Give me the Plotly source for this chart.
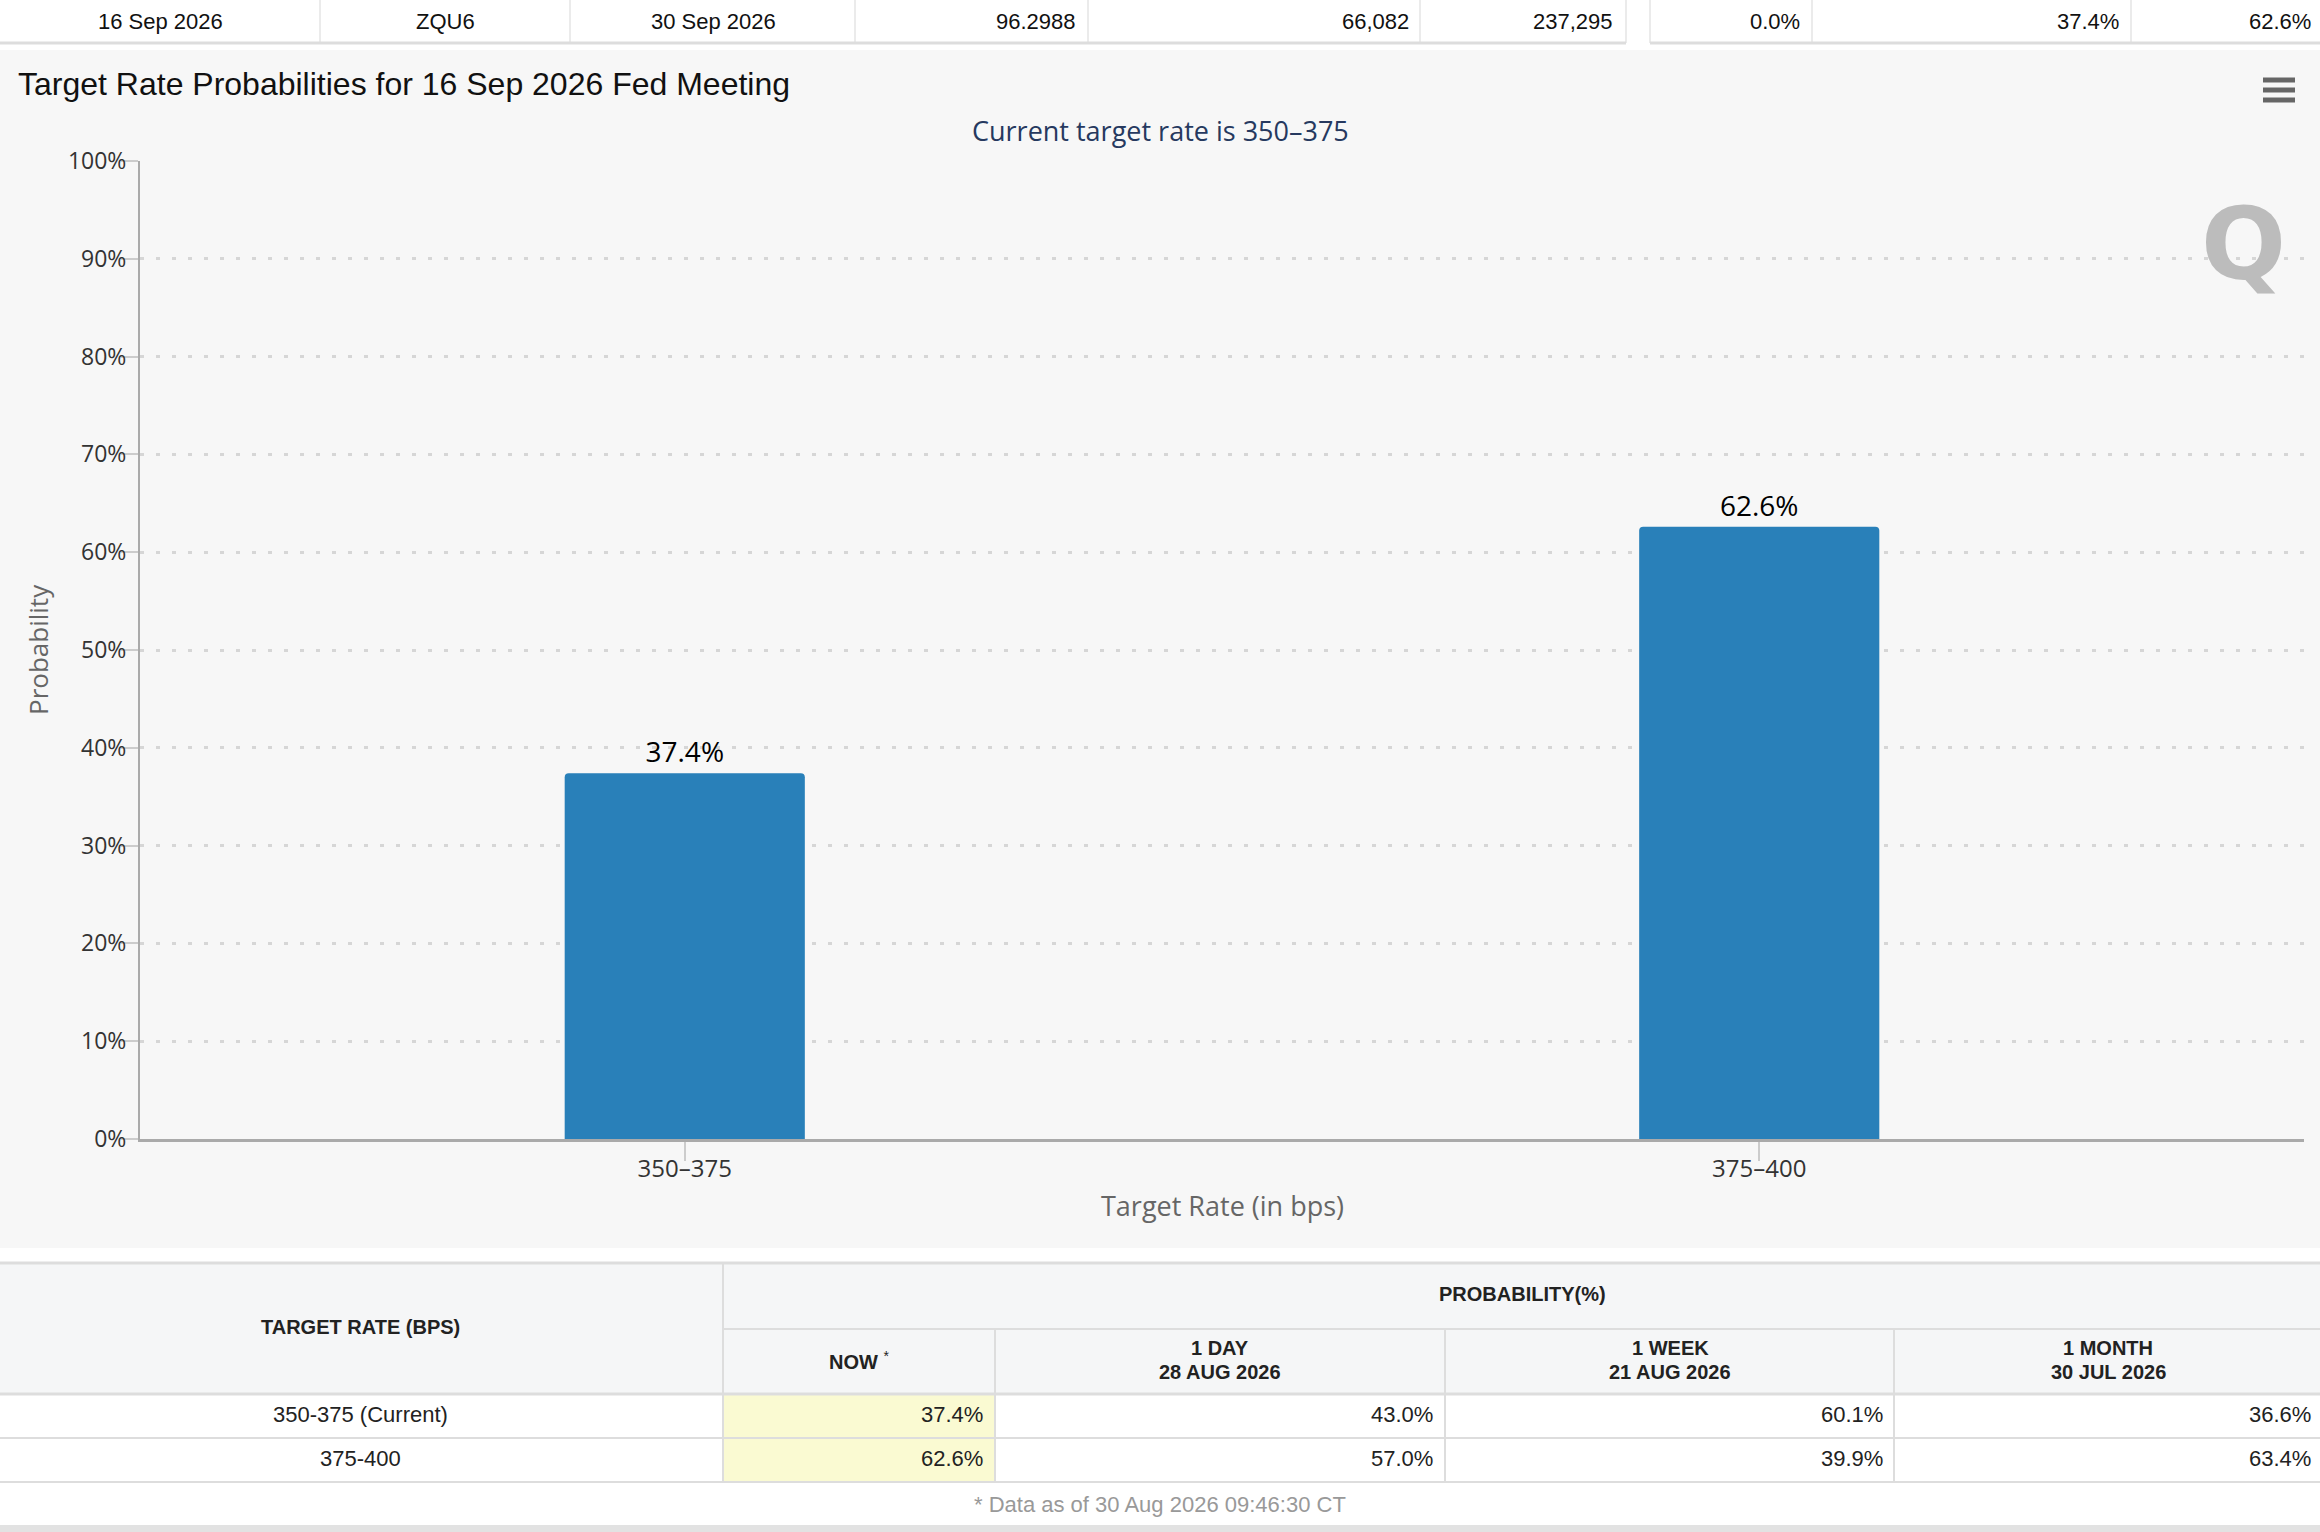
import plotly.graph_objects as go

# 顶部合约信息行
meeting_date = "16 Sep 2026"
contract = "ZQU6"
expires = "30 Sep 2026"
mid_price = "96.2988"
prior_volume = "66,082"
prior_oi = "237,295"
top_probs = ["0.0%", "37.4%", "62.6%"]

# 图表数据
rates = ["350–375", "375–400"]
now_probs = [37.4, 62.6]
current_rate = "350–375"

# 下方概率表
row_labels = ["350-375 (Current)", "375-400"]
period_names = ["1 DAY", "1 WEEK", "1 MONTH"]
period_dates = ["28 AUG 2026", "21 AUG 2026", "30 JUL 2026"]
day_probs = [43.0, 57.0]
week_probs = [60.1, 39.9]
month_probs = [36.6, 63.4]
data_time = "30 Aug 2026 09:46:30 CT"

W, H = 2320, 1532
# 绘图区像素边界
L, R, T, B = 140, 2304, 161, 1139


def px(x):
    return (x - L) / (R - L)


def py(y):
    return (B - y) / (B - T)


ARIAL = "Liberation Sans, Arial, sans-serif"
CHART_FONT = "Open Sans, DejaVu Sans, sans-serif"
LINE = "#dddddd"

fig = go.Figure()
fig.add_trace(
    go.Bar(
        x=rates,
        y=now_probs,
        marker=dict(color="#2980b9", cornerradius=4, line=dict(width=0)),
        texttemplate="%{y:.1f}%",
        textposition="outside",
        textfont=dict(family=CHART_FONT, size=28, color="#000000"),
        cliponaxis=False,
        hoverinfo="skip",
    )
)

shapes = []
annotations = []


def rect(x0, y0, x1, y1, color):
    shapes.append(dict(type="rect", xref="paper", yref="paper", x0=px(x0), x1=px(x1),
                       y0=py(y0), y1=py(y1), fillcolor=color, line=dict(width=0), layer="below"))


def hline(x0, x1, y, color=LINE, width=2):
    shapes.append(dict(type="line", xref="paper", yref="paper", x0=px(x0), x1=px(x1),
                       y0=py(y), y1=py(y), line=dict(color=color, width=width), layer="below"))


def vline(x, y0, y1, color=LINE, width=2):
    shapes.append(dict(type="line", xref="paper", yref="paper", x0=px(x), x1=px(x),
                       y0=py(y0), y1=py(y1), line=dict(color=color, width=width), layer="below"))


def text(x, y, s, size=22, color="#222222", anchor="center", family=ARIAL, **kw):
    annotations.append(dict(xref="paper", yref="paper", x=px(x), y=py(y), text=s,
                            showarrow=False, xanchor=anchor, yanchor="middle",
                            font=dict(family=family, size=size, color=color), **kw))


# 顶部表格
top_vals = [meeting_date, contract, expires, mid_price, prior_volume, prior_oi] + top_probs
top_x = [160, 445, 713, 1078, 1411, 1615, 1802, 2121, 2313]
top_anchor = ["center", "center", "center", "right", "right", "right", "right", "right", "right"]
for v, x, a in zip(top_vals, top_x, top_anchor):
    text(x, 21, v, size=22, color="#111111", anchor=a)
for x in [320, 570, 855, 1088, 1420, 1626, 1650, 1812, 2131]:
    vline(x, 0, 43, color="#e4e4e4", width=1.5)
hline(0, 1626, 43, width=3)
hline(1650, W, 43, width=3)

# 图表背景
rect(0, 50, W, 1248, "#f7f7f7")
text(16, 84, "Target Rate Probabilities for " + meeting_date + " Fed Meeting",
     size=32, color="#111111", anchor="left")
text(1160, 131, "Current target rate is " + current_rate, size=27, color="#26395f",
     family=CHART_FONT)
text(1222, 1205, "Target Rate (in bps)", size=27, color="#666666", family=CHART_FONT)
text(38, 650, "Probability", size=26, color="#666666", family=CHART_FONT, textangle=-90)
text(2243, 244, "<b>Q</b>", size=100, color="#bcbcbc", family="DejaVu Sans, sans-serif")
for y in [80, 90, 100]:
    hline(2263, 2295, y, color="#666666", width=5)

# 下方表格
rect(0, 1263, W, 1394, "#f5f6f7")
rect(723, 1394, 995, 1482, "#fafad2")
hline(0, W, 1263, width=3)
hline(723, W, 1329, width=2)
hline(0, W, 1394, width=3)
hline(0, W, 1438, width=2)
hline(0, W, 1482, width=2)
vline(723, 1263, 1482)
for x in [995, 1445, 1894]:
    vline(x, 1329, 1482)
rect(0, 1525, W, 1532, "#e2e2e2")

text(360, 1327, "<b>TARGET RATE (BPS)</b>", size=20)
text(1522, 1294, "<b>PROBABILITY(%)</b>", size=20)
text(859, 1360, "<b>NOW</b> <sup>*</sup>", size=20)
col_centers = [1220, 1670, 2108]
for cx, n, d in zip(col_centers, period_names, period_dates):
    text(cx, 1348, "<b>" + n + "</b>", size=20)
    text(cx, 1372, "<b>" + d + "</b>", size=20)

row_y = [1414, 1458]
for i, y in enumerate(row_y):
    text(360, y, row_labels[i])
    text(985, y, f"{now_probs[i]:.1f}%", anchor="right")
    text(1435, y, f"{day_probs[i]:.1f}%", anchor="right")
    text(1885, y, f"{week_probs[i]:.1f}%", anchor="right")
    text(2313, y, f"{month_probs[i]:.1f}%", anchor="right")
text(1160, 1504, "* Data as of " + data_time, size=22, color="#999999")

fig.update_layout(
    width=W,
    height=H,
    margin=dict(l=L, r=W - R, t=T, b=H - B, pad=0),
    paper_bgcolor="#ffffff",
    plot_bgcolor="rgba(0,0,0,0)",
    bargap=0.7765,
    showlegend=False,
    shapes=shapes,
    annotations=annotations,
    font=dict(family=CHART_FONT),
)
fig.update_yaxes(
    range=[0, 100],
    dtick=10,
    ticksuffix="%",
    showgrid=True,
    gridcolor="#d6d6d6",
    gridwidth=3,
    griddash="4px,12px",
    zeroline=False,
    showline=True,
    linecolor="#aaaaaa",
    linewidth=2,
    ticks="outside",
    ticklen=17,
    tickcolor="#cccccc",
    tickwidth=2,
    ticklabelstandoff=-10,
    tickfont=dict(family=CHART_FONT, size=23, color="#333333"),
)
fig.update_xaxes(
    type="category",
    range=[-0.507, 1.507],
    showgrid=False,
    showline=True,
    linecolor="#aaaaaa",
    linewidth=3,
    ticks="outside",
    ticklen=19,
    tickcolor="#cccccc",
    tickwidth=2,
    ticklabelstandoff=-13,
    tickfont=dict(family=CHART_FONT, size=24, color="#333333"),
)

fig.write_html("out.html", config={"displayModeBar": False},
               post_script="document.body.style.margin='0';")
